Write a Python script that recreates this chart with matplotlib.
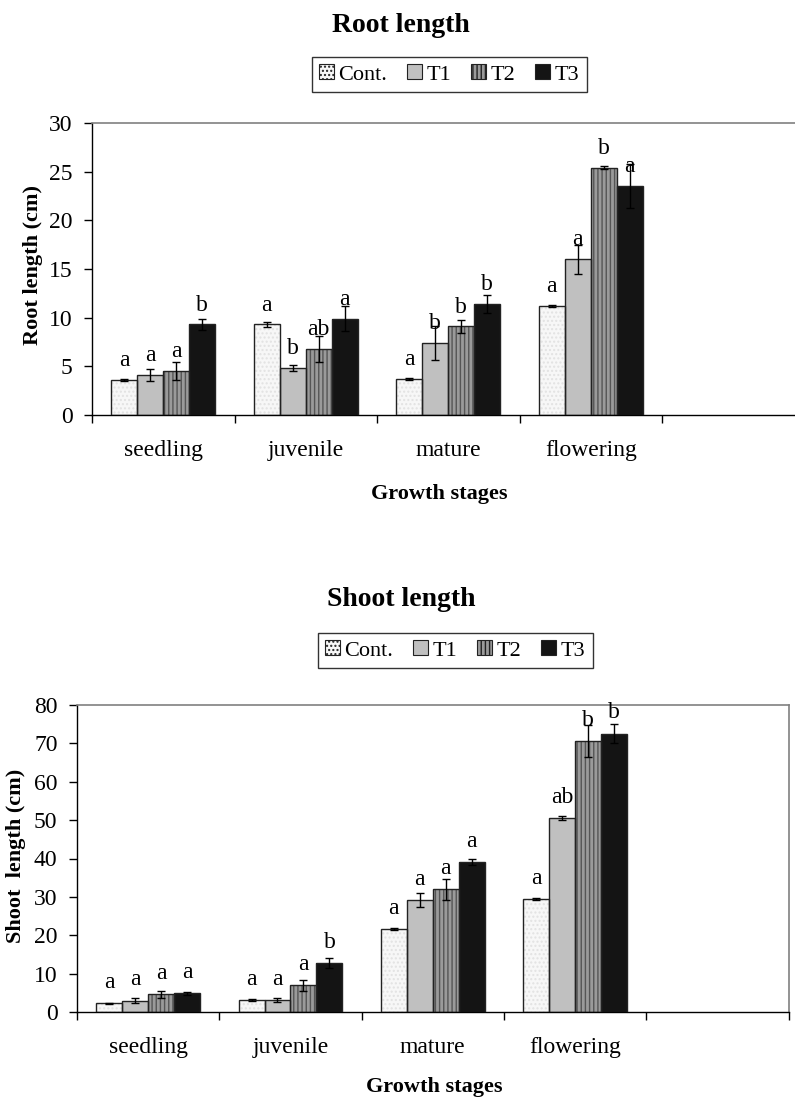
import numpy as np
import matplotlib
matplotlib.use("Agg")
import matplotlib.pyplot as plt
from matplotlib.patches import Patch

plt.rcParams['font.family'] = ['Liberation Serif', 'DejaVu Serif']

stages = ["seedling", "juvenile", "mature", "flowering"]
treatments = ["Cont.", "T1", "T2", "T3"]

# root length (cm), rows = treatments, cols = stages
root_mean = [
    [3.6, 9.3, 3.7, 11.2],
    [4.1, 4.8, 7.4, 16.0],
    [4.5, 6.8, 9.1, 25.4],
    [9.3, 9.9, 11.4, 23.5],
]
root_err = [
    [0.15, 0.25, 0.15, 0.1],
    [0.6, 0.3, 1.7, 1.5],
    [0.9, 1.35, 0.7, 0.15],
    [0.6, 1.3, 0.95, 2.25],
]
root_letters = [
    ["a", "a", "a", "a"],
    ["a", "b", "b", "a"],
    ["a", "ab", "b", "b"],
    ["b", "a", "b", "a"],
]

# shoot length (cm)
shoot_mean = [
    [2.3, 3.2, 21.6, 29.5],
    [3.0, 3.2, 29.1, 50.5],
    [4.7, 7.0, 32.0, 70.5],
    [4.9, 12.8, 39.1, 72.5],
]
shoot_err = [
    [0.2, 0.3, 0.2, 0.2],
    [0.65, 0.4, 1.8, 0.5],
    [0.95, 1.45, 2.7, 4.2],
    [0.45, 1.4, 0.9, 2.5],
]
shoot_letters = [
    ["a", "a", "a", "a"],
    ["a", "a", "a", "ab"],
    ["a", "a", "a", "b"],
    ["a", "b", "a", "b"],
]

faces = ["#f7f7f7", "#c0c0c0", "#9a9a9a", "#141414"]
hatches = ["....", "", "||||", ""]
hatch_cols = ["#e2e2e2", "#c0c0c0", "#555555", "#141414"]

bar_w = 0.1825
fs = 17

fig = plt.figure(figsize=(7.95, 11.02), dpi=100)


def draw_panel(ax, means, errs, letters, ymax, ystep, ylabel, letter_off):
    x = np.arange(len(stages)) + 0.5
    for i in range(len(treatments)):
        xs = x + (i - 1.5) * bar_w
        ax.bar(xs, means[i], bar_w, color=faces[i], edgecolor=hatch_cols[i],
               hatch=hatches[i], linewidth=0, zorder=2)
        ax.bar(xs, means[i], bar_w, fill=False, edgecolor="#222222",
               linewidth=1.0, zorder=3)
        ax.errorbar(xs, means[i], yerr=errs[i], fmt="none", ecolor="black",
                    elinewidth=1, capsize=3, capthick=1, zorder=4)
        for xv, yv, lab in zip(xs, means[i], letters[i]):
            ax.annotate(lab, (xv, yv), xytext=(0, letter_off),
                        textcoords="offset points", ha="center",
                        va="baseline", fontsize=fs, zorder=5)
    ax.set_xlim(0, 5)
    ax.set_ylim(0, ymax)
    ax.set_yticks(np.arange(0, ymax + 1, ystep))
    ax.set_xticks(np.arange(0, 6))
    ax.set_xticklabels([])
    ax.set_xticks(x, minor=True)
    ax.set_xticklabels(stages, minor=True, fontsize=fs)
    ax.tick_params(axis="x", which="major", direction="out", length=6, width=1)
    ax.tick_params(axis="x", which="minor", length=0, pad=18)
    ax.tick_params(axis="y", direction="out", length=6, width=1, pad=8,
                   labelsize=fs)
    for s in ["top", "right"]:
        ax.spines[s].set_color("#808080")
        ax.spines[s].set_linewidth(1.2)
    for s in ["left", "bottom"]:
        ax.spines[s].set_color("black")
        ax.spines[s].set_linewidth(1)
    ax.set_ylabel(ylabel, fontsize=16, fontweight="bold")
    ax.set_xlabel("Growth stages", fontsize=16, fontweight="bold")


def add_legend(center):
    handles = [Patch(facecolor=faces[i], edgecolor="#222222",
                     hatch=hatches[i], linewidth=0.8) for i in range(4)]
    leg = fig.legend(handles, treatments, loc="center",
                     bbox_to_anchor=center, ncol=4, fontsize=16,
                     frameon=True, fancybox=False, shadow=False,
                     handlelength=0.66, handleheight=0.66,
                     handletextpad=0.2, columnspacing=0.9, borderpad=0.35)
    leg.get_frame().set_edgecolor("black")
    leg.get_frame().set_linewidth(1)


# top panel (extends past right edge, as in the source)
ax1 = fig.add_axes([92 / 795, 1 - 415 / 1102, 712.5 / 795, 292 / 1102])
draw_panel(ax1, root_mean, root_err, root_letters, 30, 5,
           "Root length (cm)", 10)
ax1.xaxis.set_label_coords(0.487, -0.235)
ax1.yaxis.set_label_coords(-0.069, 0.514)
fig.text(401 / 795, 1 - 26 / 1102, "Root length", ha="center", va="center",
         fontsize=20, fontweight="bold")
add_legend((449 / 795, 1 - 74.5 / 1102))

# bottom panel
ax2 = fig.add_axes([77 / 795, 1 - 1012.3 / 1102, 711.6 / 795, 307.6 / 1102])
draw_panel(ax2, shoot_mean, shoot_err, shoot_letters, 80, 10,
           "Shoot  length (cm)", 11)
ax2.xaxis.set_label_coords(0.502, -0.21)
ax2.yaxis.set_label_coords(-0.072, 0.51)
fig.text(401 / 795, 1 - 599 / 1102, "Shoot length", ha="center", va="center",
         fontsize=20, fontweight="bold")
add_legend((455 / 795, 1 - 650.5 / 1102))

fig.savefig("out.png", dpi=100)
